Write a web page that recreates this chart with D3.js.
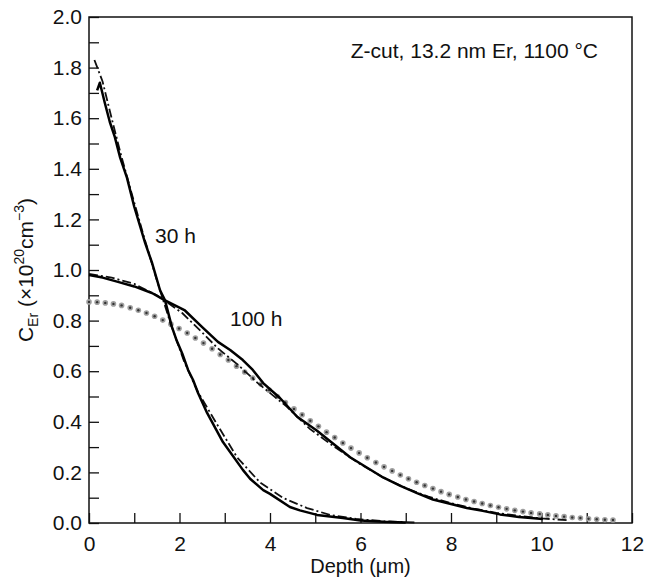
<!DOCTYPE html>
<html>
<head>
<meta charset="utf-8">
<script src="https://cdn.jsdelivr.net/npm/d3@7"></script>
<style>
    body { margin: 0; background: #fff; }
    svg text { font-family: "Liberation Sans", Arial, sans-serif; fill: #111; }
</style>
</head>
<body>
<div class="chart"></div>
<script>
// 30 h measured profile (depth um, C_Er 1e20 cm^-3)
let depth30 = [0.18, 0.24, 0.35, 0.46, 0.57, 0.69, 0.84, 1.0, 1.24, 1.39, 1.57, 1.68, 1.83, 1.94, 2.06, 2.19, 2.3, 2.41, 2.61, 2.96, 3.4, 3.56, 3.85, 4.0, 4.44, 4.66, 5.04, 5.61, 6.0, 6.5, 7.0]
let conc30 = [1.71, 1.74, 1.66, 1.585, 1.526, 1.443, 1.364, 1.25, 1.107, 1.03, 0.92, 0.88, 0.776, 0.72, 0.67, 0.605, 0.565, 0.514, 0.435, 0.32, 0.21, 0.175, 0.13, 0.115, 0.063, 0.05, 0.032, 0.02, 0.01, 0.005, 0.002]
// 30 h fit
let depth30Fit = [0.12, 0.3, 0.5, 0.7, 0.9, 1.2, 1.5, 1.8, 2.1, 2.4, 2.83, 3.27, 3.78, 4.29, 4.82, 5.33, 5.9, 6.5, 7.2]
let conc30Fit = [1.83, 1.745, 1.6, 1.46, 1.33, 1.14, 0.96, 0.79, 0.64, 0.52, 0.39, 0.26, 0.16, 0.099, 0.059, 0.032, 0.016, 0.007, 0.002]
// 100 h measured profile
let depth100 = [0, 0.3, 0.64, 1.0, 1.39, 1.68, 2.12, 2.49, 2.85, 3.12, 3.4, 3.62, 3.85, 4.22, 4.6, 5.04, 5.77, 6.5, 6.87, 7.25, 7.6, 8.0, 8.35, 8.7, 9.08, 9.5, 10.03]
let conc100 = [0.98, 0.97, 0.953, 0.935, 0.909, 0.88, 0.84, 0.776, 0.716, 0.684, 0.644, 0.605, 0.553, 0.494, 0.42, 0.365, 0.26, 0.18, 0.148, 0.118, 0.093, 0.075, 0.059, 0.048, 0.034, 0.024, 0.016]
// 100 h fit
let depth100Fit = [0, 0.5, 1.0, 1.5, 2.06, 2.49, 2.85, 3.3, 3.73, 4.37, 4.88, 5.39, 6.0, 6.5, 7.0, 7.5, 8.0, 8.5, 9.0, 9.5, 10.0, 10.6]
let conc100Fit = [0.985, 0.97, 0.945, 0.9, 0.83, 0.755, 0.69, 0.624, 0.553, 0.46, 0.372, 0.305, 0.232, 0.18, 0.138, 0.104, 0.078, 0.057, 0.04, 0.028, 0.018, 0.011]
// dotted (simulated) profile
let depthSim = [0, 0.18, 0.36, 0.54, 0.72, 0.91, 1.09, 1.27, 1.45, 1.63, 1.81, 1.99, 2.17, 2.35, 2.53, 2.72, 2.9, 3.08, 3.26, 3.44, 3.62, 3.8, 3.98, 4.16, 4.34, 4.53, 4.71, 4.89, 5.07, 5.25, 5.43, 5.61, 5.79, 5.97, 6.15, 6.34, 6.52, 6.7, 6.88, 7.06, 7.24, 7.42, 7.6, 7.78, 7.96, 8.15, 8.33, 8.51, 8.69, 8.87, 9.05, 9.23, 9.41, 9.59, 9.77, 9.96, 10.14, 10.32, 10.5, 10.68, 10.86, 11.04, 11.22, 11.4, 11.58]
let concSim = [0.874, 0.873, 0.87, 0.866, 0.86, 0.851, 0.841, 0.83, 0.817, 0.802, 0.786, 0.769, 0.751, 0.731, 0.711, 0.689, 0.666, 0.644, 0.62, 0.597, 0.573, 0.549, 0.525, 0.5, 0.476, 0.451, 0.428, 0.404, 0.382, 0.359, 0.338, 0.316, 0.296, 0.277, 0.258, 0.239, 0.222, 0.206, 0.19, 0.175, 0.161, 0.148, 0.136, 0.124, 0.113, 0.103, 0.093, 0.085, 0.077, 0.069, 0.062, 0.056, 0.05, 0.045, 0.04, 0.036, 0.032, 0.028, 0.025, 0.022, 0.02, 0.017, 0.015, 0.013, 0.012]

let xTickValues = [0, 2, 4, 6, 8, 10, 12]
let yTickValues = [0, 0.2, 0.4, 0.6, 0.8, 1.0, 1.2, 1.4, 1.6, 1.8, 2.0]

let width = 647, height = 577
let margin = { top: 17, right: 15, bottom: 54, left: 89 }

let svg = d3.select(".chart")
    .append("svg")
    .attr("width", width)
    .attr("height", height)

let x = d3.scaleLinear().domain([0, 12]).range([margin.left, width - margin.right])
let y = d3.scaleLinear().domain([0, 2]).range([height - margin.bottom, margin.top])

let zip = (xs, ys) => xs.map((d, i) => [d, ys[i]])
let line = d3.line().x(d => x(d[0])).y(d => y(d[1]))

// minor ticks (no labels)
svg.append("g")
    .attr("transform", `translate(0,${y(0)})`)
    .call(d3.axisBottom(x).tickValues(d3.range(1, 12, 2)).tickSizeInner(-10).tickSizeOuter(0).tickFormat(""))
svg.append("g")
    .attr("transform", `translate(${x(0)},0)`)
    .call(d3.axisLeft(y).tickValues(d3.range(0.1, 2, 0.2)).tickSizeInner(-10).tickSizeOuter(0).tickFormat(""))

let xAxis = svg.append("g")
    .attr("transform", `translate(0,${y(0)})`)
    .call(d3.axisBottom(x).tickValues(xTickValues).tickSizeInner(-10).tickSizeOuter(0).tickPadding(9).tickFormat(d3.format("d")))
let yAxis = svg.append("g")
    .attr("transform", `translate(${x(0)},0)`)
    .call(d3.axisLeft(y).tickValues(yTickValues).tickSizeInner(-10).tickSizeOuter(0).tickPadding(7).tickFormat(d3.format(".1f")))

svg.selectAll(".domain").remove()
svg.selectAll(".tick line").attr("stroke", "#111").attr("stroke-width", 1.3)
svg.selectAll(".tick text").attr("font-size", 21).attr("fill", "#111")
    .attr("font-family", "Liberation Sans, Arial, sans-serif")
xAxis.selectAll(".tick text").attr("dy", "0.9em")

// frame
svg.append("rect")
    .attr("x", x(0))
    .attr("y", y(2))
    .attr("width", x(12) - x(0))
    .attr("height", y(0) - y(2))
    .attr("fill", "none")
    .attr("stroke", "#111")
    .attr("stroke-width", 1.5)

let plot = svg.append("g")

// simulated profile as dots
let dots = plot.append("g")
    .selectAll("g")
    .data(zip(depthSim, concSim))
    .enter()
    .append("g")
    .attr("transform", d => `translate(${x(d[0])},${y(d[1])})`)
dots.append("circle").attr("r", 2.8).attr("fill", "#a0a0a0")
dots.append("circle").attr("r", 1.2).attr("fill", "#333")

// fits, dash-dot
;[zip(depth30Fit, conc30Fit), zip(depth100Fit, conc100Fit)].forEach(item => {
    plot.append("path")
        .datum(item)
        .attr("d", line)
        .attr("fill", "none")
        .attr("stroke", "#111")
        .attr("stroke-width", 1.8)
        .attr("stroke-dasharray", "9,3,2,3")
})

// measured profiles
;[zip(depth30, conc30), zip(depth100, conc100)].forEach(item => {
    plot.append("path")
        .datum(item)
        .attr("d", line)
        .attr("fill", "none")
        .attr("stroke", "#000")
        .attr("stroke-width", 2.5)
        .attr("stroke-linejoin", "round")
})

// annotations
svg.append("text")
    .attr("x", 598)
    .attr("y", 58)
    .attr("text-anchor", "end")
    .attr("font-size", 21)
    .text("Z-cut, 13.2 nm Er, 1100 °C")
svg.append("text")
    .attr("x", 155)
    .attr("y", 243)
    .attr("font-size", 21)
    .text("30 h")
svg.append("text")
    .attr("x", 230)
    .attr("y", 326)
    .attr("font-size", 21)
    .text("100 h")

// axis titles
svg.append("text")
    .attr("x", (x(0) + x(12)) / 2)
    .attr("y", 573)
    .attr("text-anchor", "middle")
    .attr("font-size", 20)
    .text("Depth (μm)")

let yTitle = svg.append("text")
    .attr("transform", `translate(33,${(y(0) + y(2)) / 2}) rotate(-90)`)
    .attr("text-anchor", "middle")
    .attr("font-size", 21)
yTitle.append("tspan").text("C")
yTitle.append("tspan").attr("font-size", 14).attr("dy", 5).text("Er")
yTitle.append("tspan").attr("dy", -5).text(" (×10")
yTitle.append("tspan").attr("font-size", 14).attr("dy", -9).text("20")
yTitle.append("tspan").attr("dy", 9).text("cm")
yTitle.append("tspan").attr("font-size", 14).attr("dy", -9).text("−3")
yTitle.append("tspan").attr("dy", 9).text(")")
</script>
</body>
</html>
